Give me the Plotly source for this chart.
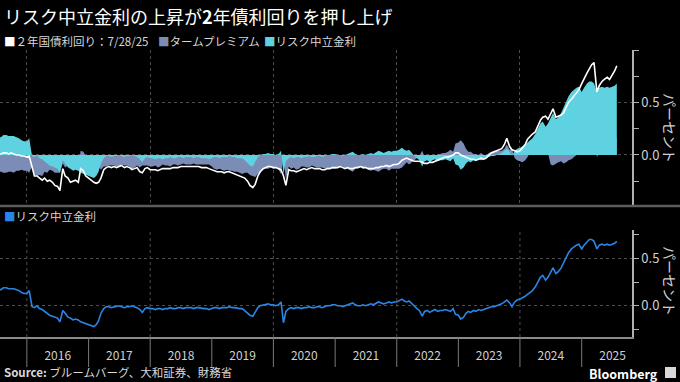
import pandas as pd
import plotly.graph_objects as go

# ---------------- data (semi-monthly readings, 1st & 15th, plus last obs) ----------------
dates = list(pd.date_range("2015-07-15", "2025-07-15", freq="SMS")) + [pd.Timestamp("2025-07-28")]

yield_2y = (
    [0.01, 0.01, 0.02, 0.02, 0.01, 0.02, 0.01, 0.0, 0.0, -0.01, -0.01]  # 2015 (Jul15..Dec15)
    + [-0.02, -0.01, -0.12, -0.2, -0.2, -0.22, -0.24, -0.22, -0.25, -0.24, -0.26, -0.29,
       -0.3, -0.34, -0.13, -0.2, -0.22, -0.26, -0.25, -0.24, -0.26, -0.13, -0.15, -0.2]  # 2016
    + [-0.22, -0.24, -0.26, -0.27, -0.26, -0.22, -0.14, -0.12, -0.11, -0.12, -0.11, -0.12,
       -0.11, -0.1, -0.12, -0.11, -0.12, -0.14, -0.13, -0.12, -0.16, -0.17, -0.13, -0.12]  # 2017
    + [-0.14, -0.14, -0.14, -0.15, -0.14, -0.13, -0.13, -0.13, -0.13, -0.12, -0.12, -0.12,
       -0.11, -0.11, -0.11, -0.11, -0.11, -0.11, -0.11, -0.11, -0.12, -0.12, -0.12, -0.13]  # 2018
    + [-0.14, -0.15, -0.16, -0.16, -0.16, -0.17, -0.16, -0.16, -0.17, -0.18, -0.19, -0.2,
       -0.21, -0.22, -0.25, -0.29, -0.31, -0.28, -0.2, -0.16, -0.13, -0.12, -0.11, -0.11]  # 2019
    + [-0.12, -0.12, -0.13, -0.14, -0.2, -0.29, -0.14, -0.15, -0.15, -0.16, -0.15, -0.14,
       -0.13, -0.14, -0.13, -0.12, -0.13, -0.13, -0.13, -0.14, -0.14, -0.13, -0.13, -0.12]  # 2020
    + [-0.12, -0.12, -0.11, -0.12, -0.13, -0.12, -0.13, -0.13, -0.12, -0.12, -0.11, -0.12,
       -0.12, -0.13, -0.13, -0.13, -0.12, -0.12, -0.11, -0.11, -0.1, -0.11, -0.1, -0.09]  # 2021
    + [-0.09, -0.08, -0.05, -0.04, -0.03, -0.04, -0.05, -0.06, -0.06, -0.06, -0.07, -0.08,
       -0.08, -0.07, -0.07, -0.06, -0.05, -0.04, -0.03, -0.02, -0.02, -0.01, 0.0, 0.02]  # 2022
    + [0.02, 0.0, -0.01, -0.02, -0.03, -0.04, -0.04, -0.05, -0.04, -0.03, -0.04, -0.03,
       0.0, 0.02, 0.03, 0.04, 0.05, 0.06, 0.1, 0.16, 0.08, 0.05, 0.04, 0.03]  # 2023
    + [0.04, 0.07, 0.1, 0.15, 0.18, 0.2, 0.22, 0.27, 0.33, 0.36, 0.37, 0.34,
       0.4, 0.44, 0.36, 0.37, 0.38, 0.4, 0.45, 0.5, 0.53, 0.56, 0.6, 0.62]  # 2024
    + [0.68, 0.73, 0.78, 0.82, 0.86, 0.88, 0.6, 0.66, 0.7, 0.72, 0.74, 0.72, 0.76, 0.8, 0.85]  # 2025
)

risk_neutral = (
    [0.17, 0.17, 0.19, 0.19, 0.18, 0.18, 0.18, 0.17, 0.16, 0.14, 0.13]
    + [0.13, 0.16, -0.01, -0.02, 0.0, -0.03, -0.04, -0.06, -0.08, -0.1, -0.11, -0.12,
       -0.13, -0.17, -0.05, -0.08, -0.12, -0.13, -0.15, -0.14, -0.15, -0.17, -0.18, -0.19]
    + [-0.2, -0.21, -0.22, -0.2, -0.16, -0.08, -0.03, -0.01, -0.01, -0.02, -0.01, -0.01,
       0.0, -0.01, -0.02, -0.01, -0.01, 0.0, -0.01, -0.02, -0.04, -0.07, -0.03, -0.02]
    + [-0.03, -0.03, -0.04, -0.03, -0.03, -0.04, -0.03, -0.03, -0.02, -0.03, -0.03, -0.02,
       -0.02, -0.03, -0.02, -0.02, -0.02, -0.03, -0.02, -0.02, -0.03, -0.03, -0.03, -0.04]
    + [-0.03, -0.02, -0.02, -0.03, -0.02, -0.02, -0.02, -0.01, -0.02, -0.02, -0.03, -0.03,
       -0.03, -0.05, -0.08, -0.1, -0.11, -0.07, -0.02, 0.0, 0.01, 0.01, 0.02, 0.01]
    + [0.01, 0.0, 0.01, 0.04, -0.18, -0.06, -0.03, -0.02, -0.03, -0.02, -0.02, -0.03,
       -0.02, -0.02, -0.01, -0.02, -0.02, -0.01, -0.01, -0.02, -0.01, 0.0, 0.0, 0.01]
    + [0.01, 0.0, 0.0, -0.01, 0.0, 0.01, 0.02, 0.03, 0.01, 0.0, 0.0, 0.01,
       0.0, 0.01, 0.02, 0.01, 0.03, 0.04, 0.03, 0.02, 0.03, 0.04, 0.03, 0.04]
    + [0.04, 0.05, 0.07, 0.05, 0.04, 0.05, 0.02, -0.01, -0.03, -0.05, -0.11, -0.06,
       -0.05, -0.07, -0.05, -0.04, -0.06, -0.05, -0.05, -0.04, -0.05, -0.06, -0.03, -0.09]
    + [-0.1, -0.14, -0.12, -0.08, -0.06, -0.07, -0.05, -0.06, -0.04, -0.05, -0.04, -0.03,
       -0.02, -0.01, -0.01, 0.0, 0.01, 0.02, 0.04, 0.06, 0.03, -0.01, 0.04, 0.06]
    + [0.07, 0.08, 0.1, 0.12, 0.14, 0.16, 0.2, 0.25, 0.3, 0.32, 0.27, 0.3,
       0.36, 0.4, 0.34, 0.36, 0.4, 0.45, 0.5, 0.56, 0.6, 0.62, 0.64, 0.65]
    + [0.6, 0.64, 0.68, 0.7, 0.7, 0.68, 0.6, 0.64, 0.65, 0.64, 0.65, 0.64, 0.65, 0.66, 0.68]
)

term_premium = (
    [-0.16, -0.16, -0.17, -0.17, -0.16, -0.16, -0.17, -0.15, -0.15, -0.14, -0.15]
    + [-0.15, -0.17, -0.11, -0.18, -0.2, -0.19, -0.2, -0.16, -0.17, -0.14, -0.15, -0.17,
       -0.17, -0.17, -0.08, -0.12, -0.1, -0.13, -0.1, -0.1, -0.11, 0.04, 0.03, -0.01]
    + [-0.02, -0.03, -0.04, -0.07, -0.1, -0.14, -0.11, -0.11, -0.1, -0.1, -0.1, -0.11,
       -0.11, -0.09, -0.1, -0.1, -0.11, -0.14, -0.12, -0.1, -0.12, -0.1, -0.1, -0.1]
    + [-0.11, -0.11, -0.1, -0.12, -0.11, -0.09, -0.1, -0.1, -0.11, -0.09, -0.09, -0.1,
       -0.09, -0.08, -0.09, -0.09, -0.09, -0.08, -0.09, -0.09, -0.09, -0.09, -0.09, -0.09]
    + [-0.11, -0.13, -0.14, -0.13, -0.14, -0.15, -0.14, -0.15, -0.15, -0.16, -0.16, -0.17,
       -0.18, -0.17, -0.17, -0.19, -0.2, -0.21, -0.18, -0.16, -0.14, -0.13, -0.13, -0.12]
    + [-0.13, -0.12, -0.14, -0.18, -0.02, -0.23, -0.11, -0.13, -0.12, -0.14, -0.13, -0.11,
       -0.11, -0.12, -0.12, -0.1, -0.11, -0.12, -0.12, -0.12, -0.13, -0.13, -0.13, -0.13]
    + [-0.13, -0.12, -0.11, -0.11, -0.13, -0.13, -0.15, -0.16, -0.13, -0.12, -0.11, -0.13,
       -0.12, -0.14, -0.15, -0.14, -0.15, -0.16, -0.14, -0.13, -0.13, -0.15, -0.13, -0.13]
    + [-0.13, -0.13, -0.12, -0.09, -0.07, -0.09, -0.07, -0.05, -0.03, -0.01, 0.04, -0.02,
       -0.03, 0.0, -0.02, -0.02, 0.01, 0.01, 0.02, 0.02, 0.03, 0.05, 0.03, 0.11]
    + [0.12, 0.14, 0.11, 0.06, 0.03, 0.03, 0.01, 0.01, 0.0, 0.02, 0.0, 0.0,
       0.02, 0.03, 0.04, 0.04, 0.04, 0.04, 0.06, 0.1, 0.05, 0.06, -0.03, -0.05]
    + [-0.06, -0.07, -0.05, -0.02, 0.03, 0.04, 0.02, 0.02, 0.03, 0.04, 0.05, 0.02,
       -0.09, -0.1, -0.08, -0.07, -0.06, -0.08, -0.07, -0.05, -0.04, -0.02, 0.0, 0.02]
    + [0.08, 0.09, 0.1, 0.12, 0.16, 0.2, -0.02, 0.02, 0.05, 0.08, 0.09, 0.08, 0.11, 0.14, 0.17]
)

assert len(dates) == len(yield_2y) == len(risk_neutral) == len(term_premium)

year_ticks = [f"{y}-01-01" for y in range(2016, 2026)]
grid_years = ["2016-01-01", "2018-01-01", "2020-01-01", "2022-01-01", "2024-01-01"]
x_range = ["2015-07-26", "2025-10-26"]

# ---------------- styling ----------------
FONT = "Noto Sans CJK JP, Noto Sans, sans-serif"
C_WHITE = "#ffffff"
C_SLATE = "#7b8db6"
C_CYAN = "#5ed2e1"
C_BLUE = "#2986e6"
GRID = "#4d4d4d"
AX = "#b0b0b0"

W, H = 680, 382
ML, MR, MT, MB = 0, 48, 50, 45
PW, PH = W - ML - MR, H - MT - MB


def px(xp):
    return (xp - ML) / PW


def py(yp):
    return (H - MB - yp) / PH


fig = go.Figure()
fig.add_trace(go.Scatter(x=dates, y=term_premium, mode="lines", fill="tozeroy",
                         fillcolor=C_SLATE, line=dict(width=0, color=C_SLATE),
                         xaxis="x", yaxis="y", hoverinfo="skip"))
fig.add_trace(go.Scatter(x=dates, y=risk_neutral, mode="lines", fill="tozeroy",
                         fillcolor=C_CYAN, line=dict(width=0, color=C_CYAN),
                         xaxis="x", yaxis="y", hoverinfo="skip"))
fig.add_trace(go.Scatter(x=dates, y=yield_2y, mode="lines",
                         line=dict(width=1.6, color=C_WHITE), xaxis="x", yaxis="y"))
fig.add_trace(go.Scatter(x=dates, y=risk_neutral, mode="lines",
                         line=dict(width=1.6, color=C_BLUE), xaxis="x2", yaxis="y2"))

top_dom = [py(206), 1.0]
bot_dom = [0.0, py(230)]

yaxis_common = dict(
    side="right", tickmode="array", ticks="outside", ticklen=5, tickwidth=1,
    tickcolor=AX, showline=True, linecolor=AX, linewidth=1.5,
    showgrid=True, gridcolor=GRID, griddash="dot", gridwidth=1, zeroline=False,
    tickfont=dict(size=13, color="#d0d0d0", family=FONT),
)

fig.update_layout(
    width=W, height=H,
    margin=dict(l=ML, r=MR, t=MT, b=MB),
    paper_bgcolor="#000000", plot_bgcolor="#000000",
    showlegend=False,
    font=dict(family=FONT, color="#d0d0d0"),
    xaxis=dict(domain=[0, 1], anchor="y", range=x_range, type="date",
               tickmode="array", tickvals=grid_years, showticklabels=False,
               ticks="", showgrid=True, gridcolor=GRID, griddash="dot", gridwidth=1,
               showline=False, zeroline=False),
    yaxis=dict(domain=top_dom, anchor="x", range=[-0.486, 1.0],
               tickvals=[0, 0.5, 1.0], ticktext=["0.0", "0.5", ""],
               minor=dict(tickmode="array", tickvals=[-0.25, 0.25, 0.75], ticks="outside",
                          ticklen=5, tickcolor=AX, showgrid=False),
               **yaxis_common),
    xaxis2=dict(domain=[0, 1], anchor="y2", range=x_range, type="date",
                tickmode="linear", tick0="2016-01-01", dtick="M12", tickformat="%Y",
                ticklabelmode="period", ticks="", showgrid=False,
                showline=True, linecolor="#8a8a8a", linewidth=2, zeroline=False,
                ticklabelstandoff=7,
                tickfont=dict(size=12, color="#d0d0d0", family=FONT)),
    yaxis2=dict(domain=bot_dom, anchor="x2", range=[-0.33, 0.80],
                tickvals=[0, 0.5], ticktext=["0.0", "0.5"],
                minor=dict(tickmode="array", tickvals=[-0.25, 0.25, 0.75], ticks="outside",
                           ticklen=5, tickcolor=AX, showgrid=False),
                **yaxis_common),
)

shapes = []
for d in grid_years:
    shapes.append(dict(type="line", xref="x2", yref="y2 domain", x0=d, x1=d, y0=0, y1=1,
                       line=dict(color=GRID, width=1, dash="dot"), layer="below"))
for d in year_ticks:
    shapes.append(dict(type="line", xref="x2", yref="paper", x0=d, x1=d,
                       y0=py(337), y1=py(367), line=dict(color="#7a7a7a", width=1)))
shapes.append(dict(type="line", xref="paper", yref="paper", x0=0, x1=px(W), y0=py(206), y1=py(206),
                   line=dict(color="#5c5c5c", width=2.5)))
# Bloomberg mark
shapes.append(dict(type="rect", xref="paper", yref="paper", x0=px(665), x1=px(676),
                   y0=py(378), y1=py(367), fillcolor="#d8d8d8", line=dict(width=0)))
fig.update_layout(shapes=shapes)

ann = []
ann.append(dict(text="リスク中立金利の上昇が<b>2</b>年債利回りを押し上げ", x=px(2), y=py(16),
                xanchor="left", yanchor="middle", font=dict(size=18, color="#ffffff", family=FONT)))


def legend_item(x, y, color, label, size=11.5):
    return dict(text=f"<span style='color:{color}'>■</span>{label}", x=px(x), y=py(y),
                xanchor="left", yanchor="middle",
                font=dict(size=size, color="#d8d8d8", family=FONT))


ann.append(legend_item(2, 41, C_WHITE, "２年国債利回り：7/28/25", size=11.5))
ann.append(legend_item(156, 41, C_SLATE, "タームプレミアム"))
ann.append(legend_item(262, 41, C_CYAN, "リスク中立金利"))
ann.append(legend_item(2, 216, C_BLUE, "リスク中立金利"))

for yc in (128, 281):
    ann.append(dict(text="パーセント", x=px(670), y=py(yc), textangle=90,
                    xanchor="center", yanchor="middle",
                    font=dict(size=14, color="#d0d0d0", family=FONT)))

ann.append(dict(text="<b>Source:</b> ブルームバーグ、大和証券、財務省", x=px(2), y=py(372),
                xanchor="left", yanchor="middle", font=dict(size=11.5, color="#d8d8d8", family=FONT)))
ann.append(dict(text="<b>Bloomberg</b>", x=px(660), y=py(373),
                xanchor="right", yanchor="middle", font=dict(size=12.5, color="#ffffff", family=FONT)))

for a in ann:
    a.update(xref="paper", yref="paper", showarrow=False)
fig.update_layout(annotations=ann)

fig.write_html("out.html", config={"displayModeBar": False},
               post_script="document.body.style.margin='0';")
